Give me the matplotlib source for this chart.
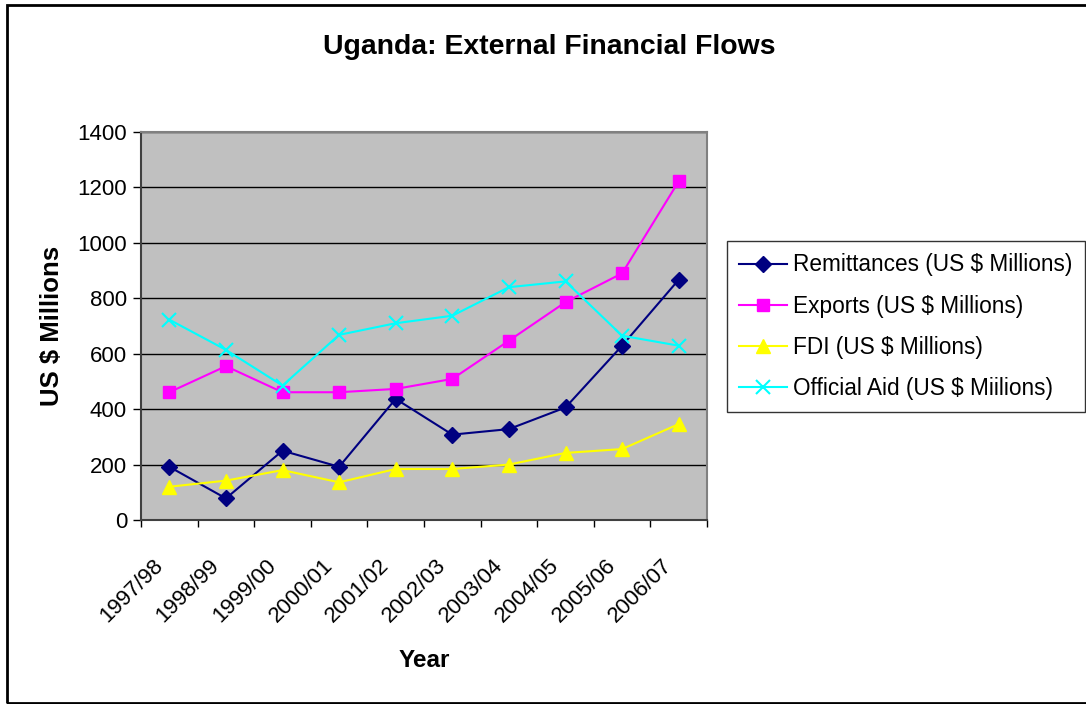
import matplotlib
matplotlib.use("Agg")
import matplotlib.pyplot as plt
from matplotlib.patches import Rectangle
from matplotlib.transforms import ScaledTranslation
import numpy as np

plt.rcParams['font.family'] = ['Liberation Sans', 'DejaVu Sans']

# Financial years on the x axis
years = ["1997/98", "1998/99", "1999/00", "2000/01", "2001/02",
         "2002/03", "2003/04", "2004/05", "2005/06", "2006/07"]

# Values in US $ millions
remittances = [192, 78, 250, 192, 437, 308, 328, 406, 629, 867]
exports = [461, 555, 461, 461, 473, 509, 647, 786, 890, 1222]
fdi = [120, 142, 180, 136, 184, 184, 200, 242, 256, 346]
official_aid = [723, 614, 485, 668, 710, 737, 840, 861, 665, 629]

x = np.arange(len(years))

fig = plt.figure(figsize=(10.86, 7.04), dpi=100)
ax = fig.add_axes([141 / 1086, 1 - 520 / 704, 566 / 1086, 388 / 704])
ax.set_facecolor("#c0c0c0")

ax.plot(x, remittances, color="#000080", marker="D", ms=8, lw=1.5,
        label="Remittances (US $ Millions)")
ax.plot(x, exports, color="#ff00ff", marker="s", ms=8, lw=1.5,
        label="Exports (US $ Millions)")
ax.plot(x, fdi, color="#ffff00", marker="^", ms=9.5, lw=1.5,
        label="FDI (US $ Millions)")
ax.plot(x, official_aid, color="#00ffff", marker="x", ms=10, mew=1.5, lw=1.5,
        label="Official Aid (US $ Miilions)")

ax.set_xlim(-0.5, len(years) - 0.5)
ax.set_ylim(0, 1400)
ax.set_yticks(np.arange(0, 1401, 200))
ax.yaxis.grid(True, color="black", lw=1)
ax.set_axisbelow(True)

# labels at category centres, tick marks on the boundaries
ax.set_xticks(x)
ax.set_xticklabels(years, rotation=45, ha="right", rotation_mode="anchor")
ax.set_xticks(np.arange(-0.5, len(years)), minor=True)
ax.tick_params(axis="x", which="major", length=0, pad=25, labelsize=16)
ax.tick_params(axis="x", which="minor", length=5, width=1, direction="out")
ax.tick_params(axis="y", length=6, width=1, direction="out", labelsize=16, pad=4)
shift = ScaledTranslation(-17 / 100, 0, fig.dpi_scale_trans)
for lbl in ax.get_xticklabels():
    lbl.set_transform(lbl.get_transform() + shift)

for side in ["top", "right"]:
    ax.spines[side].set_color("#808080")
    ax.spines[side].set_linewidth(1.5)
for side in ["left", "bottom"]:
    ax.spines[side].set_color("#404040")
    ax.spines[side].set_linewidth(1.5)

ax.set_xlabel("Year", fontsize=17.5, fontweight="bold", labelpad=16)
ax.set_ylabel("US $ Millions", fontsize=18.5, fontweight="bold", labelpad=10)

fig.text(549 / 1086, 1 - 47 / 704, "Uganda: External Financial Flows",
         ha="center", va="center", fontsize=20.4, fontweight="bold")

leg = ax.legend(loc="upper left", bbox_to_anchor=(727 / 1086, 1 - 241 / 704),
                bbox_transform=fig.transFigure, fontsize=16.3, frameon=True,
                fancybox=False, edgecolor="black", borderaxespad=0,
                handlelength=2.1, handletextpad=0.26, labelspacing=0.8,
                borderpad=0.55)
leg.get_frame().set_linewidth(1)

# outer chart frame
fig.patches.append(Rectangle((7, 1), 1100, 698, transform=None, fill=False,
                             edgecolor="black", lw=2))

fig.savefig("out.png", dpi=100)
